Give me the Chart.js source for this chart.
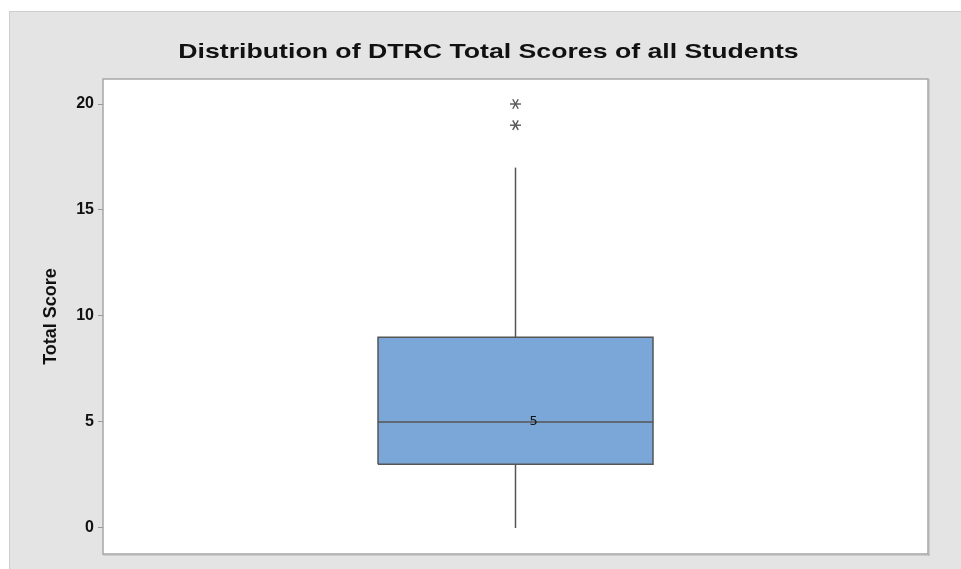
<!DOCTYPE html>
<html>
<head>
<meta charset="utf-8">
<script src="https://cdn.jsdelivr.net/npm/chart.js@4/dist/chart.umd.min.js"></script>
<style>
  html, body { margin: 0; padding: 0; background: #ffffff; }
  #wrap { width: 961px; height: 569px; }
</style>
</head>
<body>
<div id="wrap"><canvas id="c" width="961" height="569"></canvas></div>
<script>
// ---- data ----
const categories = ['All Students'];
const yTicks = [0, 5, 10, 15, 20];
const quartiles = [3, 5, 9];      // Q1, median, Q3
const whiskers = [0, 17];         // lower, upper whisker ends
const outliers = [19, 20];

// box geometry along the (hidden) linear x axis
const BOX_CENTER = 1.5;
const BOX_HALF = 0.5;

const boxColor = '#7BA6D8';
const lineColor = '#555555';

const boxData = [
  { x: BOX_CENTER - BOX_HALF, y: quartiles[0] },
  { x: BOX_CENTER + BOX_HALF, y: quartiles[0] },
  { x: BOX_CENTER + BOX_HALF, y: quartiles[2] },
  { x: BOX_CENTER - BOX_HALF, y: quartiles[2] },
  { x: BOX_CENTER - BOX_HALF, y: quartiles[0] }
];
const medianData = [
  { x: BOX_CENTER - BOX_HALF, y: quartiles[1] },
  { x: BOX_CENTER + BOX_HALF, y: quartiles[1] }
];
const upperWhisker = [{ x: BOX_CENTER, y: quartiles[2] }, { x: BOX_CENTER, y: whiskers[1] }];
const lowerWhisker = [{ x: BOX_CENTER, y: quartiles[0] }, { x: BOX_CENTER, y: whiskers[0] }];
const outlierData = outliers.map(v => ({ x: BOX_CENTER, y: v }));

const bgPlugin = {
  id: 'bg',
  beforeDraw(chart) {
    const ctx = chart.ctx;
    const a = chart.chartArea;
    ctx.save();
    ctx.fillStyle = '#ffffff';
    ctx.fillRect(0, 0, chart.width, chart.height);
    ctx.fillStyle = '#e4e4e4';
    ctx.fillRect(9, 11, chart.width - 9, chart.height - 11);
    ctx.fillStyle = '#cdcdcd';
    ctx.fillRect(9, 11, chart.width - 9, 1);
    ctx.fillRect(9, 11, 1, chart.height - 11);
    // plot area
    ctx.fillStyle = '#ffffff';
    ctx.fillRect(a.left, a.top, a.right - a.left, a.bottom - a.top);
    ctx.strokeStyle = '#a6a6a6';
    ctx.lineWidth = 1.5;
    ctx.strokeRect(a.left, a.top, a.right - a.left, a.bottom - a.top);
    ctx.fillStyle = '#b4b4b4';
    ctx.fillRect(a.right, a.top, 1.5, a.bottom - a.top + 1.5);
    ctx.fillRect(a.left, a.bottom, a.right - a.left + 1.5, 1.5);
    // title (Chart.js title text, drawn horizontally widened like the reference)
    const t = chart.options.plugins.title.text;
    ctx.font = 'bold 21px "Liberation Sans", Arial, sans-serif';
    ctx.fillStyle = '#111111';
    ctx.textAlign = 'center';
    ctx.textBaseline = 'alphabetic';
    ctx.translate(488.5, 57.5);
    ctx.scale(1.27, 1);
    ctx.fillText(t, 0, 0);
    ctx.restore();
  }
};

const medianLabel = {
  id: 'medianLabel',
  afterDatasetsDraw(chart) {
    const ctx = chart.ctx;
    const xs = chart.scales.x, ys = chart.scales.y;
    ctx.save();
    ctx.font = '13px "DejaVu Sans", sans-serif';
    ctx.fillStyle = '#111111';
    ctx.textAlign = 'left';
    ctx.textBaseline = 'middle';
    ctx.fillText(String(quartiles[1]), xs.getPixelForValue(BOX_CENTER) + 14, ys.getPixelForValue(quartiles[1]));
    ctx.restore();
  }
};

function asteriskArm(label, rotation) {
  return {
    label: label,
    data: outlierData,
    order: 0,
    showLine: false,
    pointStyle: 'line',
    rotation: rotation,
    pointRadius: 5.5,
    borderColor: lineColor,
    borderWidth: 1.4,
    backgroundColor: lineColor
  };
}

new Chart(document.getElementById('c'), {
  type: 'scatter',
  data: {
    datasets: [
      {
        label: categories[0] + ' box',
        data: boxData,
        order: 10,
        showLine: true,
        fill: 'shape',
        backgroundColor: boxColor,
        borderColor: lineColor,
        borderWidth: 1.5,
        pointRadius: 0,
        tension: 0
      },
      {
        label: 'median',
        data: medianData,
        order: 1,
        showLine: true,
        borderColor: lineColor,
        borderWidth: 1.5,
        pointRadius: 0
      },
      {
        label: 'upper whisker',
        data: upperWhisker,
        order: 1,
        showLine: true,
        borderColor: lineColor,
        borderWidth: 1.5,
        pointRadius: 0
      },
      {
        label: 'lower whisker',
        data: lowerWhisker,
        order: 1,
        showLine: true,
        borderColor: lineColor,
        borderWidth: 1.5,
        pointRadius: 0
      },
      asteriskArm('outliers', 0),
      asteriskArm('outliers arm 2', 60),
      asteriskArm('outliers arm 3', 120)
    ]
  },
  options: {
    responsive: false,
    animation: false,
    devicePixelRatio: 1,
    layout: { padding: { top: 79, right: 33, bottom: 15, left: 40 } },
    plugins: {
      legend: { display: false },
      tooltip: { enabled: false },
      title: { display: false, text: 'Distribution of DTRC Total Scores of all Students' }
    },
    scales: {
      x: {
        type: 'linear',
        min: 0,
        max: 3,
        display: false
      },
      y: {
        type: 'linear',
        min: -1.23,
        max: 21.18,
        afterBuildTicks(scale) { scale.ticks = yTicks.map(v => ({ value: v })); },
        afterFit(scale) { scale.width = 63; },
        border: { display: false },
        grid: {
          display: true,
          drawOnChartArea: false,
          drawTicks: true,
          tickLength: 5,
          tickColor: '#9a9a9a',
          color: '#9a9a9a'
        },
        ticks: {
          padding: 4,
          color: '#111111',
          font: { family: '"Liberation Sans", Arial, sans-serif', weight: 'bold', size: 16 }
        },
        title: {
          display: true,
          text: 'Total Score',
          color: '#111111',
          padding: 0,
          font: { family: '"Liberation Sans", Arial, sans-serif', weight: 'bold', size: 18 }
        }
      }
    }
  },
  plugins: [bgPlugin, medianLabel]
});
</script>
</body>
</html>
